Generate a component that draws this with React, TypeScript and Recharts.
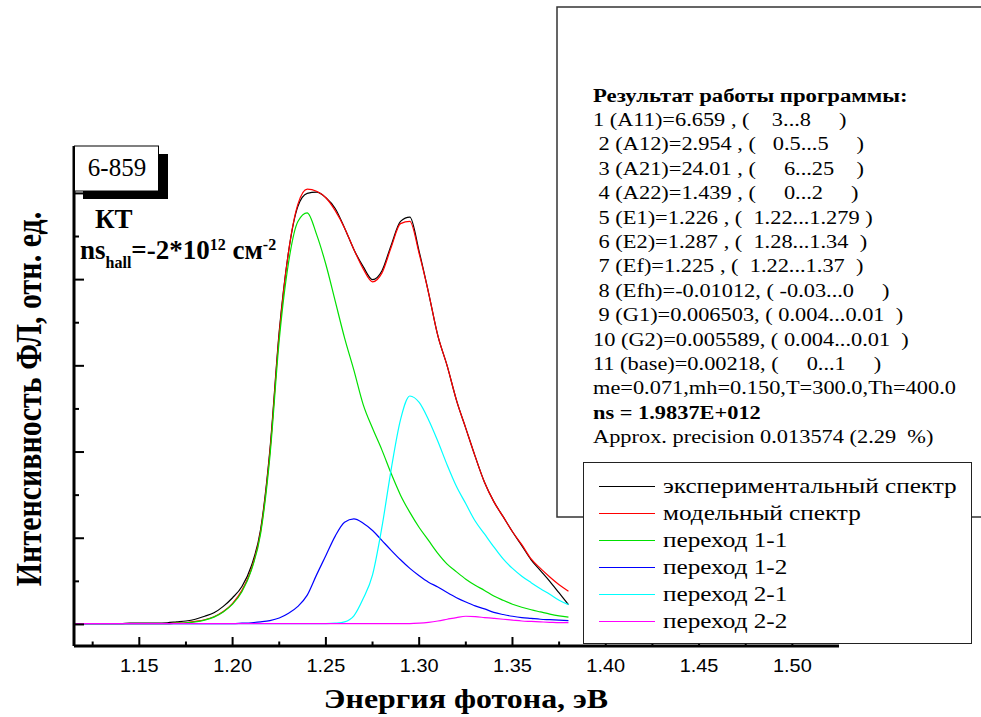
import React from 'react'
import { ComposedChart, Line, XAxis, YAxis, Legend } from 'recharts'

// photon energy, eV
const energy = [
  1.115, 1.12, 1.125, 1.13, 1.135, 1.14, 1.145, 1.15, 1.155, 1.16, 1.165, 1.17, 1.175, 1.18,
  1.185, 1.19, 1.195, 1.2, 1.205, 1.21, 1.215, 1.22, 1.225, 1.23, 1.235, 1.24, 1.245, 1.25,
  1.255, 1.26, 1.265, 1.27, 1.275, 1.28, 1.285, 1.29, 1.295, 1.3, 1.305, 1.31, 1.315, 1.32,
  1.325, 1.33, 1.335, 1.34, 1.345, 1.35, 1.355, 1.36, 1.365, 1.37, 1.375, 1.38,
]

const experimental = [
  0.002, 0.002, 0.002, 0.002, 0.002, 0.002, 0.003, 0.003, 0.003, 0.003, 0.004, 0.006, 0.008, 0.012,
  0.019, 0.027, 0.042, 0.062, 0.088, 0.135, 0.22, 0.405, 0.68, 0.865, 0.97, 1.0, 1.003, 0.99,
  0.965, 0.92, 0.87, 0.83, 0.8, 0.82, 0.88, 0.935, 0.945, 0.865, 0.77, 0.67, 0.6, 0.52,
  0.455, 0.39, 0.33, 0.285, 0.25, 0.215, 0.183, 0.15, 0.125, 0.1, 0.073, 0.046,
]

const model = [
  0.002, 0.002, 0.002, 0.002, 0.002, 0.002, 0.002, 0.002, 0.002, 0.002, 0.002, 0.003, 0.004, 0.007,
  0.011, 0.018, 0.03, 0.049, 0.079, 0.128, 0.215, 0.4, 0.675, 0.865, 0.975, 1.01, 1.005, 0.99,
  0.96, 0.92, 0.87, 0.825, 0.795, 0.815, 0.875, 0.93, 0.935, 0.86, 0.77, 0.67, 0.6, 0.52,
  0.455, 0.39, 0.33, 0.285, 0.25, 0.215, 0.185, 0.152, 0.13, 0.11, 0.092, 0.077,
]

const trans11 = [
  0.002, 0.002, 0.002, 0.002, 0.002, 0.002, 0.002, 0.002, 0.002, 0.002, 0.002, 0.003, 0.004, 0.006,
  0.01, 0.017, 0.029, 0.047, 0.076, 0.125, 0.21, 0.39, 0.66, 0.84, 0.935, 0.955, 0.905, 0.835,
  0.75, 0.665, 0.59, 0.51, 0.455, 0.405, 0.35, 0.3, 0.26, 0.225, 0.195, 0.165, 0.14, 0.122,
  0.105, 0.091, 0.079, 0.066, 0.056, 0.047, 0.04, 0.034, 0.029, 0.024, 0.02, 0.017,
]

const trans12 = [
  0.002, 0.002, 0.002, 0.002, 0.002, 0.002, 0.002, 0.002, 0.002, 0.002, 0.002, 0.002, 0.002, 0.002,
  0.002, 0.002, 0.002, 0.002, 0.003, 0.004, 0.006, 0.009, 0.015, 0.026, 0.042, 0.068, 0.115, 0.16,
  0.205, 0.237, 0.245, 0.235, 0.218, 0.195, 0.172, 0.15, 0.13, 0.113, 0.098, 0.087, 0.074, 0.062,
  0.052, 0.043, 0.036, 0.028, 0.023, 0.019, 0.016, 0.014, 0.012, 0.011, 0.01, 0.009,
]

const trans21 = [
  0.002, 0.002, 0.002, 0.002, 0.002, 0.002, 0.002, 0.002, 0.002, 0.002, 0.002, 0.002, 0.002, 0.002,
  0.002, 0.002, 0.002, 0.002, 0.002, 0.002, 0.002, 0.002, 0.002, 0.002, 0.002, 0.002, 0.002, 0.002,
  0.003, 0.006, 0.02, 0.06, 0.115, 0.225, 0.36, 0.475, 0.53, 0.515, 0.475, 0.425, 0.37, 0.32,
  0.28, 0.24, 0.21, 0.18, 0.152, 0.13, 0.112, 0.097, 0.083, 0.07, 0.056, 0.046,
]

const trans22 = [
  0.002, 0.002, 0.002, 0.002, 0.002, 0.002, 0.002, 0.002, 0.002, 0.002, 0.002, 0.002, 0.002, 0.002,
  0.002, 0.002, 0.002, 0.002, 0.002, 0.002, 0.002, 0.002, 0.002, 0.002, 0.002, 0.002, 0.002, 0.002,
  0.002, 0.002, 0.002, 0.002, 0.002, 0.002, 0.002, 0.002, 0.002, 0.003, 0.005, 0.008, 0.012, 0.016,
  0.019, 0.018, 0.016, 0.014, 0.012, 0.01, 0.008, 0.007, 0.006, 0.005, 0.004, 0.004,
]

const seriesNames = [
  'экспериментальный спектр',
  'модельный спектр',
  'переход 1-1',
  'переход 1-2',
  'переход 2-1',
  'переход 2-2',
]
const seriesColors = ['#000000', '#ff0000', '#00e000', '#0000ff', '#00ffff', '#ff00ff']

const xTicks = [1.125, 1.15, 1.175, 1.2, 1.225, 1.25, 1.275, 1.3, 1.325, 1.35, 1.375, 1.4, 1.425, 1.45, 1.475, 1.5]
const yTicks = [0, 0.1, 0.2, 0.3, 0.4, 0.5, 0.6, 0.7, 0.8, 0.9, 1.0]

const fitReport = [
  '1 (A11)=6.659 , (    3...8     )',
  ' 2 (A12)=2.954 , (   0.5...5     )',
  ' 3 (A21)=24.01 , (     6...25    )',
  ' 4 (A22)=1.439 , (     0...2     )',
  ' 5 (E1)=1.226 , (  1.22...1.279 )',
  ' 6 (E2)=1.287 , (  1.28...1.34  )',
  ' 7 (Ef)=1.225 , (  1.22...1.37  )',
  ' 8 (Efh)=-0.01012, ( -0.03...0     )',
  ' 9 (G1)=0.006503, ( 0.004...0.01  )',
  '10 (G2)=0.005589, ( 0.004...0.01  )',
  '11 (base)=0.00218, (     0...1     )',
  'me=0.071,mh=0.150,T=300.0,Th=400.0',
]

const serif = 'Liberation Serif'
const sans = 'Liberation Sans'

const data = energy.map((e, i) => ({
  e,
  exp: experimental[i],
  model: model[i],
  t11: trans11[i],
  t12: trans12[i],
  t21: trans21[i],
  t22: trans22[i],
}))
const keys = ['exp', 'model', 't11', 't12', 't21', 't22']

const isMajor = (v: number) => Math.abs(v * 20 - Math.round(v * 20)) < 1e-6

function BottomTick(props: any) {
  const { x, y, payload } = props
  const major = isMajor(payload.value)
  return (
    <g>
      <line x1={x} x2={x} y1={y} y2={y - (major ? 9 : 4.5)} stroke="#000" strokeWidth={2} />
      {major && (
        <text
          transform={`translate(${x},${y + 26}) scale(1.14,1)`}
          textAnchor="middle"
          fontFamily={sans}
          fontSize={17.5}
          fill="#000"
        >
          {payload.value.toFixed(2)}
        </text>
      )}
    </g>
  )
}

function TopTick(props: any) {
  const { x, y, payload } = props
  const major = isMajor(payload.value)
  return <line x1={x} x2={x} y1={y} y2={y + (major ? 9 : 4.5)} stroke="#000" strokeWidth={2} />
}

function LeftTick(props: any) {
  const { x, y, payload } = props
  const major = Math.abs(payload.value * 5 - Math.round(payload.value * 5)) < 1e-6
  return <line x1={x} x2={x + (major ? 10 : 5)} y1={y} y2={y} stroke="#000" strokeWidth={2} />
}

function FitLegend({ payload }: any) {
  const items = [...(payload || [])].sort(
    (a: any, b: any) => seriesNames.indexOf(a.value) - seriesNames.indexOf(b.value)
  )
  return (
    <div
      style={{
        width: 389,
        height: 182,
        boxSizing: 'border-box',
        border: '1.5px solid #222',
        background: '#fff',
        padding: '10px 0 0 15px',
        fontFamily: serif,
        fontSize: 21,
        color: '#000',
      }}
    >
      {items.map((p: any) => (
        <div key={p.value} style={{ display: 'flex', alignItems: 'center', height: 27 }}>
          <span style={{ display: 'inline-block', width: 56, borderTop: `1.3px solid ${p.color}`, marginRight: 8 }} />
          <span style={{ display: 'inline-block', transform: 'scaleX(1.2)', transformOrigin: 'left center', whiteSpace: 'nowrap' }}>
            {p.value}
          </span>
        </div>
      ))}
    </div>
  )
}

export default function App() {
  return (
    <div style={{ position: 'absolute', left: 0, top: 0, width: 981, height: 717, overflow: 'hidden', background: '#fff' }}>
      <ComposedChart width={981} height={717} data={data} margin={{ top: 146, right: 142, bottom: 0, left: 0 }}>
        <XAxis
          dataKey="e"
          type="number"
          domain={[1.115, 1.525]}
          allowDataOverflow
          ticks={xTicks}
          tick={BottomTick}
          tickLine={false}
          tickSize={0}
          tickMargin={0}
          height={71}
          axisLine={{ stroke: '#000', strokeWidth: 3 }}
          interval={0}
        />
        <XAxis
          xAxisId="top"
          dataKey="e"
          type="number"
          orientation="top"
          domain={[1.115, 1.525]}
          allowDataOverflow
          ticks={xTicks}
          tick={TopTick}
          tickLine={false}
          tickSize={0}
          tickMargin={0}
          height={0}
          axisLine={{ stroke: '#000', strokeWidth: 3 }}
          interval={0}
        />
        <YAxis
          type="number"
          domain={[-0.05, 1.11]}
          allowDataOverflow
          ticks={yTicks}
          tick={LeftTick}
          tickLine={false}
          tickSize={0}
          tickMargin={0}
          width={74}
          axisLine={{ stroke: '#000', strokeWidth: 3 }}
          interval={0}
        />
        <Legend
          layout="horizontal"
          verticalAlign="middle"
          align="center"
          content={FitLegend}
          wrapperStyle={{ left: 583, top: 462, width: 389, height: 182, zIndex: 2 }}
        />
        {keys.map((k, i) => (
          <Line
            key={k}
            dataKey={k}
            name={seriesNames[i]}
            type="monotone"
            stroke={seriesColors[i]}
            strokeWidth={1.2}
            dot={false}
            activeDot={false}
            isAnimationActive={false}
          />
        ))}
      </ComposedChart>

      <svg width={981} height={717} style={{ position: 'absolute', left: 0, top: 0, zIndex: 1, pointerEvents: 'none' }}>
        {/* fit report box */}
        <rect x={557} y={7} width={440} height={510} fill="#fff" stroke="#333" strokeWidth={1.5} />
        <text transform="translate(593,101.7) scale(1.23,1)" fontFamily={serif} fontSize={18.5} fontWeight="bold">
          Результат работы программы:
        </text>
        {fitReport.map((line, i) => (
          <text
            key={i}
            transform={`translate(593,${101.7 + 24.38 * (i + 1)}) scale(1.21,1)`}
            fontFamily={serif}
            fontSize={18.5}
            style={{ whiteSpace: 'pre' }}
          >
            {line}
          </text>
        ))}
        <text transform={`translate(593,${101.7 + 24.38 * 13}) scale(1.21,1)`} fontFamily={serif} fontSize={18.5} fontWeight="bold">
          ns = 1.9837E+012
        </text>
        <text
          transform={`translate(593,${101.7 + 24.38 * 14}) scale(1.21,1)`}
          fontFamily={serif}
          fontSize={18.5}
          style={{ whiteSpace: 'pre' }}
        >
          Approx. precision 0.013574 (2.29  %)
        </text>

        {/* sample label */}
        <rect x={83} y={154} width={85} height={45} fill="#000" />
        <rect x={74.5} y={146} width={84} height={45} fill="#fff" stroke="#000" strokeWidth={1} />
        <text x={117} y={176} textAnchor="middle" fontFamily={serif} fontSize={25}>6-859</text>

        <text x={95} y={228} fontFamily={serif} fontSize={27} fontWeight="bold">КТ</text>
        <text x={80} y={259} fontFamily={serif} fontSize={27} fontWeight="bold">
          ns
          <tspan fontSize={16} dy={9}>hall</tspan>
          <tspan dy={-9}>=-2*10</tspan>
          <tspan fontSize={16} dy={-9}>12</tspan>
          <tspan dy={9}> см</tspan>
          <tspan fontSize={16} dy={-9}>-2</tspan>
        </text>

        {/* axis titles */}
        <text
          transform="translate(41,399) rotate(-90) scale(1,1.2)"
          textAnchor="middle"
          fontFamily={serif}
          fontSize={30}
          fontWeight="bold"
        >
          Интенсивность ФЛ, отн. ед.
        </text>
        <text transform="translate(466,708) scale(1.14,1)" textAnchor="middle" fontFamily={serif} fontSize={28} fontWeight="bold">
          Энергия фотона, эВ
        </text>
      </svg>
    </div>
  )
}
